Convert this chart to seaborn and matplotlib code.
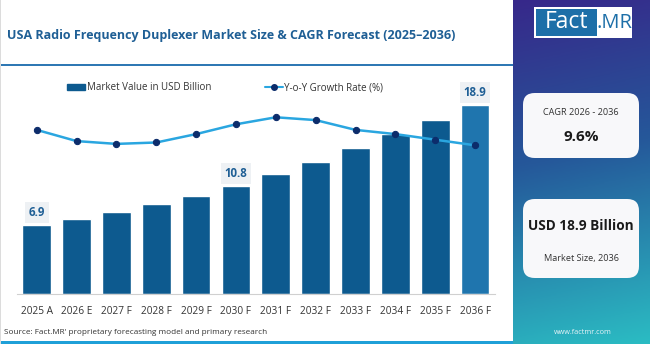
import numpy as np
import matplotlib
matplotlib.use("Agg")
import matplotlib.pyplot as plt
import seaborn as sns
from matplotlib.patches import Rectangle, FancyBboxPatch
from matplotlib.lines import Line2D
from matplotlib.colors import LinearSegmentedColormap

# ---------------- data ----------------
years = ["2025 A", "2026 E", "2027 F", "2028 F", "2029 F", "2030 F",
         "2031 F", "2032 F", "2033 F", "2034 F", "2035 F", "2036 F"]
market_value = [6.9, 7.5, 8.2, 9.0, 9.8, 10.8, 12.0, 13.2, 14.6, 16.0, 17.4, 18.9]
yoy_growth = [9.9, 9.1, 8.9, 9.0, 9.6, 10.3, 10.8, 10.6, 9.9, 9.6, 9.2, 8.8]
labelled = {"2025 A": "6.9", "2030 F": "10.8", "2036 F": "18.9"}
title = "USA Radio Frequency Duplexer Market Size & CAGR Forecast (2025\u20132036)"
source = "Source: Fact.MR' proprietary forecasting model and primary research"
cagr_label, cagr_value = "CAGR 2026 - 2036", "9.6%"
size_value, size_label = "USD 18.9 Billion", "Market Size, 2036"

W, H = 650, 344
FONT = "Open Sans"
sns.set_style("white")
plt.rcParams["font.family"] = [FONT, "DejaVu Sans"]

fig = plt.figure(figsize=(W / 100, H / 100), dpi=100)
fig.patch.set_facecolor("white")

def fx(x): return x / W
def fy(y): return 1 - y / H

# ---------------- right gradient panel ----------------
pax = fig.add_axes([fx(513), 0, 1 - fx(513), 1])
cmap = LinearSegmentedColormap.from_list(
    "g", [(0.0, "#37288a"), (0.45, "#25589a"), (1.0, "#2bbcc3")])
gy = np.linspace(0, 1, 300)[:, None]
gx = np.linspace(0, 1, 60)[None, :]
grad = np.clip(gy * 0.92 + gx * 0.08, 0, 1)
pax.imshow(grad, cmap=cmap, aspect="auto", extent=[0, 1, 1, 0])
pax.set_xlim(0, 1); pax.set_ylim(1, 0)
pax.axis("off")

# ---------------- decoration lines ----------------
fig.add_artist(Rectangle((0, fy(66)), fx(513), 2.2 / H, transform=fig.transFigure,
                         color="#2f78b4", lw=0))
fig.add_artist(Rectangle((0, 0), fx(513), 3.0 / H, transform=fig.transFigure,
                         color="#1fa0d8", lw=0))
fig.add_artist(Rectangle((0, 0), 1.2 / W, 1, transform=fig.transFigure,
                         color="#dcdcdc", lw=0))

# ---------------- main chart ----------------
x0, x1 = 16.8, 495.0
ybase, ytop = 294.0, 75.0
ax = fig.add_axes([fx(x0), fy(ybase), fx(x1) - fx(x0), (ybase - ytop) / H])
bar_colors = ["#0d5a8f"] * (len(years) - 1) + ["#1f75ae"]
sns.barplot(x=years, y=market_value, hue=years, palette=bar_colors,
            legend=False, width=0.72, saturation=1, ax=ax)
upp = 10.0  # pixels per unit
ax.set_ylim(0, (ybase - ytop) / upp)
ax.set_xlim(-0.5, len(years) - 0.5)
ax.set_yticks([])
ax.set_ylabel("")
ax.set_xlabel("")
for s in ["top", "right", "left"]:
    ax.spines[s].set_visible(False)
ax.spines["bottom"].set_color("#d0d0d0")
ax.spines["bottom"].set_linewidth(0.8)
ax.tick_params(axis="x", which="major", length=0, pad=9, labelsize=7.3,
               labelcolor="#333333")
ax.set_xticks(np.arange(-0.5, len(years), 1.0), minor=True)
ax.tick_params(axis="x", which="minor", length=5, color="#d0d0d0", width=0.8)
ax.patch.set_alpha(0)

for i, (yr, v) in enumerate(zip(years, market_value)):
    if yr in labelled:
        ax.annotate(labelled[yr], (i, v), xytext=(0, 4), textcoords="offset points",
                    ha="center", va="bottom", fontsize=8.3, fontweight="bold",
                    color="#1f5f95",
                    bbox=dict(boxstyle="square,pad=0.35", fc="#eef1f4", ec="none"))

ax2 = ax.twinx()
sns.lineplot(x=np.arange(len(years)), y=yoy_growth, ax=ax2, color="#2aa6e0",
             lw=1.8, marker="o", markersize=4.5, markerfacecolor="#0c2c6b",
             markeredgecolor="#0c2c6b")
ax2.set_ylim(-1.82, 13.82)
ax2.set_yticks([])
ax2.set_ylabel("")
for s in ax2.spines.values():
    s.set_visible(False)

# legends
h1 = Rectangle((0, 0), 1, 1, color="#0d5a8f")
leg1 = fig.legend([h1], ["Market Value in USD Billion"], loc="center left",
                  bbox_to_anchor=(fx(67), fy(88)), frameon=False, fontsize=7.0,
                  handlelength=1.8, handleheight=0.6, handletextpad=0.25,
                  borderpad=0, borderaxespad=0)
for t in leg1.get_texts():
    t.set_color("#333333")
h2 = Line2D([], [], color="#2aa6e0", lw=1.5, marker="o", markersize=4,
            markerfacecolor="#0c2c6b", markeredgecolor="#0c2c6b")
leg2 = fig.legend([h2], ["Y-o-Y Growth Rate (%)"], loc="center left",
                  bbox_to_anchor=(fx(265), fy(88)), frameon=False, fontsize=7.0,
                  handlelength=1.9, handletextpad=0.1, borderpad=0, borderaxespad=0)
for t in leg2.get_texts():
    t.set_color("#333333")

# title & source
fig.text(fx(7), fy(35), title, fontsize=9.0, fontweight="bold", color="#1f5f95",
         ha="left", va="center")
fig.text(fx(4), fy(332), source, fontsize=5.9, color="#333333", ha="left",
         va="center")

# ---------------- logo ----------------
fig.add_artist(Rectangle((fx(534), fy(38)), fx(632) - fx(534), 31 / H,
                         transform=fig.transFigure, color="white", lw=0))
fig.add_artist(Rectangle((fx(536), fy(36)), fx(597) - fx(536), 27 / H,
                         transform=fig.transFigure, color="#1d6fa8", lw=0))
fig.text(fx(566.5), fy(22.5), "Fact", fontsize=16.5, color="white", ha="center",
         va="center")
fig.text(fx(614), fy(22.5), ".MR", fontsize=14.5, color="#1d6fa8", ha="center",
         va="center")

# ---------------- cards ----------------
def card(xa, ya, xb, yb):
    fig.add_artist(FancyBboxPatch((fx(xa), fy(yb)), fx(xb) - fx(xa), (yb - ya) / H,
                                  boxstyle="round,pad=0,rounding_size=0.018",
                                  transform=fig.transFigure, fc="#f8f8fa",
                                  ec="none", mutation_aspect=W / H))

card(523, 93, 639, 158)
fig.text(fx(581), fy(113), cagr_label, fontsize=6.6, color="#333333",
         ha="center", va="center")
fig.text(fx(581), fy(137), cagr_value, fontsize=11, fontweight="bold",
         color="#1a1a1a", ha="center", va="center")
card(523, 199, 639, 278)
fig.text(fx(581), fy(226), size_value, fontsize=9.8, fontweight="bold",
         color="#1a1a1a", ha="center", va="center")
fig.text(fx(581), fy(258), size_label, fontsize=6.6, color="#333333",
         ha="center", va="center")
fig.text(fx(583), fy(333), "www.factmr.com", fontsize=5.2, color="#e8f4f8",
         ha="center", va="center")

fig.savefig("out.png", dpi=100)
